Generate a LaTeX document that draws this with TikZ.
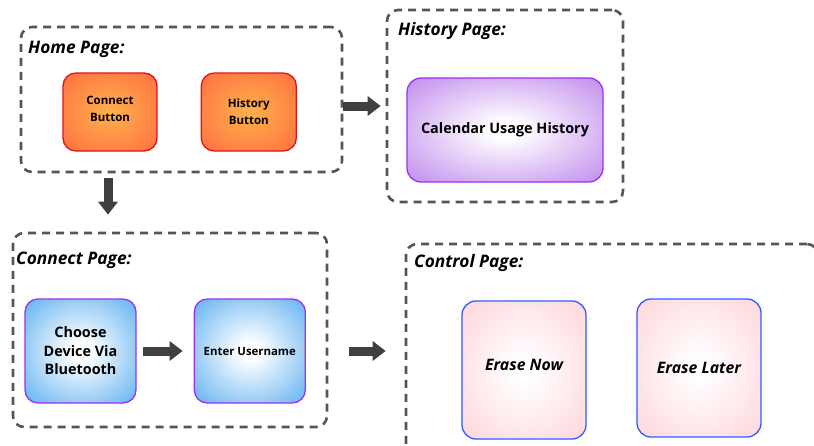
\documentclass[tikz,border=0pt]{standalone}
\usepackage{fontspec}
\setmainfont{Open Sans}
\usetikzlibrary{positioning, arrows.meta}
\definecolor{dashgray}{HTML}{555555}
\definecolor{arrowgray}{HTML}{404040}
\definecolor{btnred}{HTML}{E41212}
\definecolor{btnin}{HTML}{FFB04C}
\definecolor{btnout}{HTML}{FF6F42}
\definecolor{violetline}{HTML}{9B30F5}
\definecolor{violetout}{HTML}{BE86EC}
\definecolor{skyout}{HTML}{5AAEF0}
\definecolor{pinkout}{HTML}{FFD3D8}
\definecolor{blueline}{HTML}{2D5EFF}
% soft glows, outer colour only near the corners
\pgfdeclareradialshading{orangeglow}{\pgfpoint{0bp}{0bp}}{color(0bp)=(btnin); color(36bp)=(btnout); color(50bp)=(btnout)}
\pgfdeclareradialshading{violetglow}{\pgfpoint{0bp}{0bp}}{color(0bp)=(white); color(4bp)=(white); color(37bp)=(violetout); color(50bp)=(violetout)}
\pgfdeclareradialshading{skyglow}{\pgfpoint{0bp}{0bp}}{color(0bp)=(white); color(4bp)=(white); color(37bp)=(skyout); color(50bp)=(skyout)}
\pgfdeclareradialshading{pinkglow}{\pgfpoint{0bp}{0bp}}{color(0bp)=(white); color(4bp)=(white); color(37bp)=(pinkout); color(50bp)=(pinkout)}

\begin{document}
\begin{tikzpicture}[x=1pt, y=-1pt,
  page/.style={draw=dashgray, dash pattern=on 8pt off 6pt, line width=2.6pt,
               rounded corners=11pt, inner sep=0pt},
  pagetitle/.style={anchor=base west, inner sep=0pt,
               font=\fontsize{17.3}{20}\selectfont\bfseries\itshape},
  orangebtn/.style={draw=btnred, line width=1.3pt, rounded corners=13pt,
               shading=orangeglow, align=center,
               font=\fontsize{11.5}{17}\selectfont\bfseries},
  violetbox/.style={draw=violetline, line width=1.3pt, rounded corners=14pt,
               shading=violetglow, align=center,
               font=\fontsize{14.4}{18}\selectfont\bfseries},
  skybox/.style={draw=violetline, line width=1.3pt, rounded corners=13pt,
               shading=skyglow, align=center,
               font=\fontsize{14.4}{18.5}\selectfont\bfseries},
  pinkbox/.style={draw=blueline, line width=1.3pt, rounded corners=14pt,
               shading=pinkglow, align=center,
               font=\fontsize{15.8}{19}\selectfont\bfseries\itshape},
  blockarr/.style={draw=arrowgray, line width=9pt,
               -{Triangle[length=13pt, width=19pt]}}
 ]
\useasboundingbox (0,0) rectangle (814,445);
\clip (0,0) rectangle (814,445);

% pages
\node[page, minimum width=321pt, minimum height=145pt] (home) at (181.5,99.5) {};
\node[page, minimum width=236pt, minimum height=192pt] (hist) at (505,106) {};
\node[page, minimum width=314pt, minimum height=194pt] (connect) at (170,330) {};
\node[page, minimum width=412pt, minimum height=211pt] (control) at (612,349.5) {};

\node[pagetitle] (hometitle) at (28,53) {Home Page:};
\node[pagetitle] (histtitle) at (398,35) {History Page:};
\node[pagetitle] (contitle) at (16,264) {Connect Page:};
\node[pagetitle] (ctrltitle) at (414,267) {Control Page:};

% home page buttons
\node[orangebtn, minimum width=94pt, minimum height=78pt, text depth=7pt] (conbtn) at (110,112) {Connect\\Button};
\node[orangebtn, minimum width=95pt, minimum height=78pt, right=43pt of conbtn] (histbtn) {History\\Button};

% history page
\node[violetbox, minimum width=196pt, minimum height=104pt] (calendar) at (505,130) {Calendar Usage History};

% connect page
\node[skybox, minimum width=111pt, minimum height=104pt] (choose) at (80.5,351) {Choose\\Device Via\\Bluetooth};
\node[skybox, minimum width=111pt, minimum height=104pt, right=57pt of choose,
      font=\fontsize{11.4}{14}\selectfont\bfseries] (enter) {Enter Username};

% control page
\node[pinkbox, minimum width=124pt, minimum height=138pt, text depth=11pt] (erasenow) at (524,370) {Erase Now};
\node[pinkbox, minimum width=124pt, minimum height=138pt] (eraselater) at (699,368) {Erase Later};

% flow
\draw[blockarr, shorten >=5pt] (home.east |- hist) -- (hist.west);
\draw[blockarr, shorten <=5pt, shorten >=17pt] (home.south -| 108,0) -- (connect.north -| 108,0);
\draw[blockarr, shorten <=6pt, shorten >=11pt] (choose) -- (enter);
\draw[blockarr, shorten <=21pt, shorten >=19pt] (connect.east |- enter) -- (control.west |- enter);
\end{tikzpicture}
\end{document}
